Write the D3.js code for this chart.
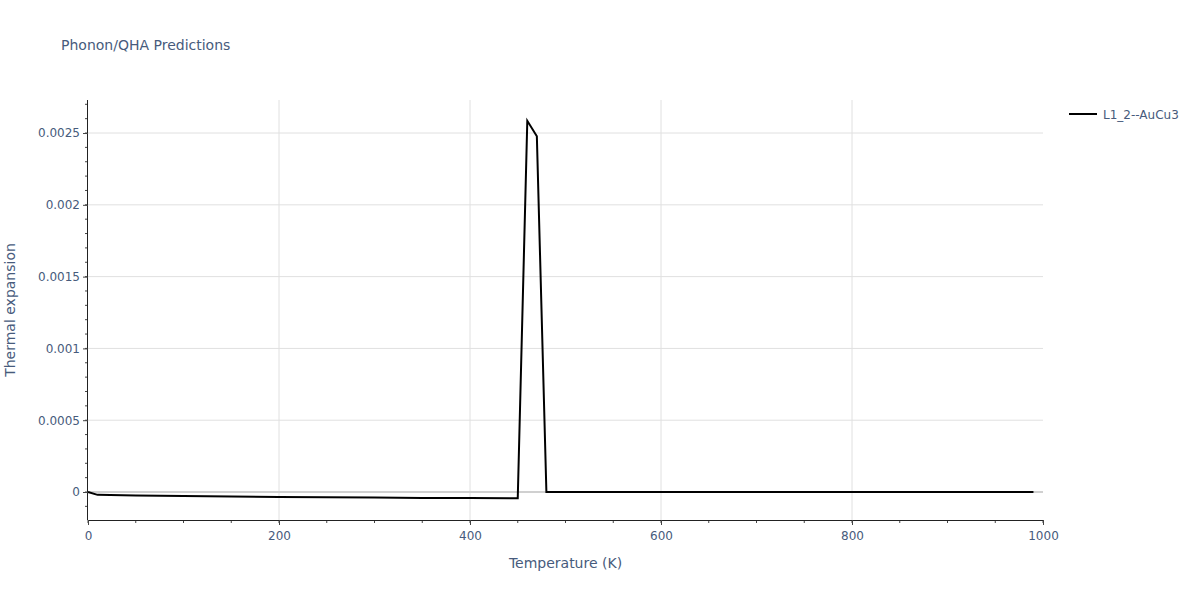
<!DOCTYPE html>
<html>
<head>
<meta charset="utf-8">
<script src="https://cdn.jsdelivr.net/npm/d3@7"></script>
<style>
  body { margin: 0; background: #fff; }
  text { font-family: 'DejaVu Sans', Verdana, sans-serif; }
</style>
</head>
<body>
<svg width="1200" height="600"></svg>
<script>
// temperature (K) and thermal expansion
let temperature = [0, 10, 50, 100, 150, 200, 250, 300, 350, 400, 450, 460, 470, 480,
  500, 550, 600, 650, 700, 750, 800, 850, 900, 950, 990]
let expansion = [0, -0.000020, -0.000024, -0.000028, -0.000032, -0.000035, -0.000037,
  -0.000039, -0.000041, -0.000042, -0.000044, 0.002585, 0.002478, 0,
  0, 0, 0, 0, 0, 0, 0, 0, 0, 0, 0]
let seriesName = 'L1_2--AuCu3'
let xTicks = [0, 200, 400, 600, 800, 1000]
let yTicks = [0, 0.0005, 0.001, 0.0015, 0.002, 0.0025]

let width = 1200
let height = 600
let margin = { top: 100, bottom: 80, left: 88, right: 157 }
let textColor = '#475b7c'

let points = temperature.map((t, i) => ({ t: t, v: expansion[i] }))

let xScale = d3.scaleLinear()
  .domain([0, 1000])
  .range([margin.left, width - margin.right])

let yScale = d3.scaleLinear()
  .domain([-0.000195, 0.00273])
  .range([height - margin.bottom, margin.top])

let svg = d3.select('svg')

// grid
let grid = svg.append('g')
grid.selectAll('.gx')
  .data(xTicks.filter(d => d > 0 && d < 1000))
  .enter()
  .append('line')
  .attr('x1', d => xScale(d)).attr('x2', d => xScale(d))
  .attr('y1', margin.top).attr('y2', height - margin.bottom)
  .attr('stroke', '#e0e0e0')
grid.selectAll('.gy')
  .data(yTicks.filter(d => d !== 0))
  .enter()
  .append('line')
  .attr('x1', margin.left).attr('x2', width - margin.right)
  .attr('y1', d => yScale(d)).attr('y2', d => yScale(d))
  .attr('stroke', '#e0e0e0')
// zero line
grid.append('line')
  .attr('x1', margin.left).attr('x2', width - margin.right)
  .attr('y1', yScale(0)).attr('y2', yScale(0))
  .attr('stroke', '#d0d0d0')
  .attr('stroke-width', 2)

// minor ticks
let xMinor = d3.range(0, 1001, 50)
let yMinor = d3.range(-1, 28).map(d => d * 0.0001)
svg.append('g').selectAll('line')
  .data(xMinor)
  .enter()
  .append('line')
  .attr('x1', d => xScale(d)).attr('x2', d => xScale(d))
  .attr('y1', height - margin.bottom).attr('y2', height - margin.bottom + 3)
  .attr('stroke', '#444')
svg.append('g').selectAll('line')
  .data(yMinor)
  .enter()
  .append('line')
  .attr('x1', margin.left - 3).attr('x2', margin.left)
  .attr('y1', d => yScale(d)).attr('y2', d => yScale(d))
  .attr('stroke', '#444')

// axes
let xAxis = svg.append('g')
  .attr('transform', `translate(0, ${height - margin.bottom})`)
  .call(d3.axisBottom(xScale).tickValues(xTicks).tickSize(5).tickPadding(6).tickFormat(d3.format('d')))
let yAxis = svg.append('g')
  .attr('transform', `translate(${margin.left}, 0)`)
  .call(d3.axisLeft(yScale).tickValues(yTicks).tickSize(5).tickPadding(3).tickFormat(d => d === 0 ? '0' : String(+d.toFixed(4))))

xAxis.select('.domain').attr('d', `M${margin.left},0.5H${width - margin.right}`).attr('stroke', '#222')
yAxis.select('.domain').attr('d', `M-0.5,${margin.top}V${height - margin.bottom}`).attr('stroke', '#222')
svg.selectAll('.tick line').attr('stroke', '#444')
svg.selectAll('.tick text')
  .attr('fill', textColor)
  .style('font-size', '12px')
  .style('font-family', "'DejaVu Sans', Verdana, sans-serif")

// line
let line = d3.line()
  .x(d => xScale(d.t))
  .y(d => yScale(d.v))

svg.append('path')
  .attr('d', line(points))
  .attr('fill', 'none')
  .attr('stroke', '#000')
  .attr('stroke-width', 2)

// titles
svg.append('text')
  .attr('x', 61).attr('y', 50)
  .attr('fill', textColor)
  .style('font-size', '14px')
  .text('Phonon/QHA Predictions')

svg.append('text')
  .attr('x', (margin.left + width - margin.right) / 2)
  .attr('y', 568)
  .attr('text-anchor', 'middle')
  .attr('fill', textColor)
  .style('font-size', '14px')
  .text('Temperature (K)')

svg.append('text')
  .attr('transform', `translate(15, ${(margin.top + height - margin.bottom) / 2}) rotate(-90)`)
  .attr('text-anchor', 'middle')
  .attr('fill', textColor)
  .style('font-size', '14px')
  .text('Thermal expansion')

// legend
let legend = svg.append('g').attr('transform', 'translate(1069, 114)')
legend.append('line')
  .attr('x1', 0).attr('x2', 28)
  .attr('stroke', '#000')
  .attr('stroke-width', 2)
legend.append('text')
  .attr('x', 34).attr('y', 4.5)
  .attr('fill', textColor)
  .style('font-size', '12px')
  .text(seriesName)
</script>
</body>
</html>
